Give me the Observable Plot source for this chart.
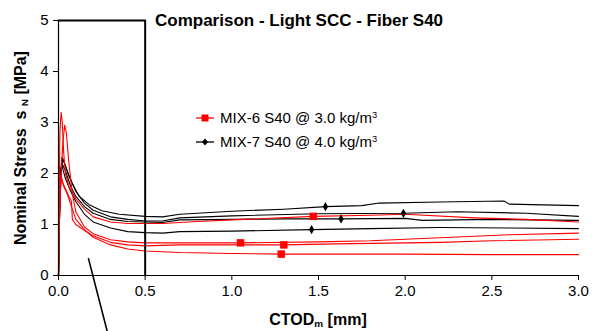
<!DOCTYPE html>
<html><head><meta charset="utf-8">
<script src="https://cdn.jsdelivr.net/npm/d3@7"></script>
<script src="https://cdn.jsdelivr.net/npm/@observablehq/plot@0.6"></script>
<style>
body{margin:0;background:#fff;font-family:"Liberation Sans",Arial,sans-serif}
#wrap{position:relative;width:592px;height:331px;overflow:hidden;background:#fff}
.t{position:absolute;white-space:nowrap;color:#000;line-height:1}
sub.s{font-size:0.62em;vertical-align:-0.2em;line-height:0}
sup.s{font-size:0.62em;vertical-align:0.55em;line-height:0}
</style></head><body><div id="wrap"></div>
<script>
// ---- data (CTOD_m [mm], nominal stress [MPa]) ----
const titleText = "Comparison - Light SCC - Fiber S40";
const seriesNames = ["MIX-6 S40 @ 3.0 kg/m", "MIX-7 S40 @ 4.0 kg/m"];
const xTicks = [0, 0.5, 1.0, 1.5, 2.0, 2.5, 3.0];
const yTicks = [0, 1, 2, 3, 4, 5];

// MIX-6 (red) specimens
const mix6_1 = [[0,0],[0.004,1.5],[0.008,2.8],[0.015,3.2],[0.022,3.0],[0.03,2.4],[0.04,2.0],[0.06,1.75],[0.1,1.5],[0.15,1.3],[0.2,1.15],[0.3,1.05],[0.4,1.02],[0.5,1.02],[0.6,1.02],[0.8,1.06],[1.0,1.09],[1.47,1.16],[1.8,1.18],[2.0,1.2],[2.4,1.13],[2.7,1.1],[3.0,1.05]];
const mix6_2 = [[0,0],[0.005,1.0],[0.015,2.0],[0.025,2.6],[0.036,2.95],[0.045,2.8],[0.06,2.2],[0.08,1.6],[0.1,1.25],[0.15,0.95],[0.2,0.82],[0.3,0.70],[0.4,0.66],[0.5,0.64],[0.7,0.64],[1.05,0.64],[1.5,0.66],[1.8,0.68],[2.2,0.74],[2.6,0.8],[3.0,0.83]];
const mix6_3 = [[0,0],[0.005,1.0],[0.01,1.6],[0.015,2.0],[0.02,1.85],[0.04,1.7],[0.06,1.55],[0.075,1.45],[0.08,1.1],[0.1,1.0],[0.15,0.88],[0.2,0.78],[0.3,0.65],[0.4,0.6],[0.5,0.58],[0.7,0.6],[1.0,0.6],[1.3,0.6],[1.6,0.62],[1.8,0.63],[2.2,0.65],[2.5,0.68],[3.0,0.71]];
const mix6_4 = [[0,0],[0.005,1.2],[0.01,1.8],[0.015,1.95],[0.03,1.75],[0.05,1.6],[0.07,1.4],[0.1,1.1],[0.15,0.9],[0.2,0.75],[0.3,0.6],[0.4,0.52],[0.5,0.48],[0.7,0.45],[1.0,0.43],[1.285,0.42],[1.6,0.42],[2.0,0.42],[2.5,0.41],[3.0,0.41]];
const mix6Markers = [[1.47,1.16],[1.05,0.64],[1.30,0.60],[1.285,0.42]];

// MIX-7 (black) specimens
const mix7_1 = [[0,0],[0.005,1.0],[0.012,2.0],[0.02,2.32],[0.03,2.25],[0.05,2.05],[0.08,1.8],[0.12,1.55],[0.18,1.38],[0.25,1.27],[0.35,1.2],[0.5,1.16],[0.6,1.15],[0.7,1.2],[1.0,1.26],[1.3,1.3],[1.54,1.35],[1.75,1.37],[1.85,1.42],[2.2,1.44],[2.57,1.46],[2.6,1.40],[3.0,1.37]];
const mix7_2 = [[0,0],[0.006,1.2],[0.015,2.1],[0.025,2.28],[0.04,2.15],[0.06,1.95],[0.1,1.65],[0.15,1.42],[0.2,1.28],[0.3,1.15],[0.4,1.1],[0.5,1.07],[0.6,1.07],[0.7,1.13],[1.0,1.17],[1.5,1.21],[1.99,1.22],[2.3,1.25],[2.7,1.22],[3.0,1.16]];
const mix7_3 = [[0,0],[0.006,1.3],[0.015,2.0],[0.02,2.2],[0.04,2.05],[0.07,1.75],[0.1,1.55],[0.15,1.35],[0.2,1.22],[0.3,1.1],[0.4,1.06],[0.5,1.05],[0.6,1.04],[0.7,1.09],[1.0,1.1],[1.3,1.11],[1.63,1.11],[2.0,1.12],[2.1,1.08],[2.5,1.1],[3.0,1.08]];
const mix7_4 = [[0,0],[0.006,1.5],[0.015,2.1],[0.02,2.15],[0.04,1.9],[0.07,1.65],[0.1,1.45],[0.15,1.2],[0.2,1.05],[0.3,0.93],[0.4,0.86],[0.5,0.84],[0.6,0.83],[0.7,0.86],[1.0,0.87],[1.46,0.90],[1.8,0.92],[2.2,0.94],[2.6,0.93],[3.0,0.92]];
const mix7Markers = [[1.54,1.35],[1.99,1.22],[1.63,1.11],[1.46,0.90]];

// annotation: box around 0–0.5 mm region and pointer line
const boxOutline = [[0,5],[0.5,5],[0.5,0]];
const pointerLine = [[0.173,0.33],[0.283,-1.12]];

// ---- build tidy tables ----
const toRows = (arr, curve) => arr.map(([x,y]) => ({x, y, curve}));
const mix6Rows = [mix6_1, mix6_2, mix6_3, mix6_4].flatMap((c,i) => toRows(c, "m6_" + i));
const mix7Rows = [mix7_1, mix7_2, mix7_3, mix7_4].flatMap((c,i) => toRows(c, "m7_" + i));

const RED = "#ff0000";
const chart = Plot.plot({
  width: 592, height: 331,
  marginTop: 20, marginRight: 14, marginBottom: 56, marginLeft: 58,
  style: {fontFamily: '"Liberation Sans", Arial, sans-serif', fontSize: "15px", color: "#000", background: "#fff"},
  x: {domain: [0, 3]},
  y: {domain: [0, 5]},
  marks: [
    Plot.axisX({ticks: xTicks, tickFormat: d => d.toFixed(1), tickSize: 5, tickPadding: 5, label: null, fontSize: 15, stroke: "#000"}),
    Plot.axisY({ticks: yTicks, tickFormat: d => String(d), tickSize: 5, tickPadding: 5, label: null, fontSize: 15, stroke: "#000"}),
    Plot.line(mix7Rows, {x: "x", y: "y", z: "curve", stroke: "#000", strokeWidth: 1.1}),
    Plot.line(mix6Rows, {x: "x", y: "y", z: "curve", stroke: RED, strokeWidth: 1.1}),
    Plot.dot(mix7Markers, {x: d => d[0], y: d => d[1], symbol: "diamond", r: 2.8, fill: "#000", stroke: null}),
    Plot.dot(mix6Markers, {x: d => d[0], y: d => d[1], symbol: "square", r: 4.2, fill: RED, stroke: null}),
    Plot.line(boxOutline, {x: d => d[0], y: d => d[1], stroke: "#000", strokeWidth: 2}),
    Plot.line(pointerLine, {x: d => d[0], y: d => d[1], stroke: "#000", strokeWidth: 1.6}),
    Plot.ruleX([0], {stroke: "#000", strokeWidth: 1.2}),
    Plot.ruleY([0], {stroke: "#000", strokeWidth: 1.2})
  ]
});
const wrap = document.getElementById("wrap");
wrap.appendChild(chart);

function addText(html, css) {
  const d = document.createElement("div");
  d.className = "t";
  d.innerHTML = html;
  Object.assign(d.style, css);
  wrap.appendChild(d);
  return d;
}
// title
addText(titleText, {left: "155px", top: "12px", fontWeight: "bold", fontSize: "17px"});
// axis labels
addText('CTOD<sub class="s">m</sub> [mm]', {left: "318px", top: "320px", transform: "translate(-50%,-50%)", fontWeight: "bold", fontSize: "16px"});
addText('Nominal Stress&nbsp; s <sub class="s">N</sub> [MPa]', {left: "20.5px", top: "147.5px", transform: "translate(-50%,-50%) rotate(-90deg)", fontWeight: "bold", fontSize: "16px"});

// legend
const legendSym = [
  `<svg width="18" height="10" style="position:absolute;left:-24px;top:3px"><line x1="0" y1="5" x2="18" y2="5" stroke="${RED}" stroke-width="1.3"/><rect x="5.5" y="1.5" width="7" height="7" fill="${RED}"/></svg>`,
  `<svg width="18" height="10" style="position:absolute;left:-24px;top:3px"><line x1="0" y1="5" x2="18" y2="5" stroke="#000" stroke-width="1.3"/><path d="M9 1.5 L12 5 L9 8.5 L6 5Z" fill="#000"/></svg>`
];
seriesNames.forEach((name, i) => {
  addText(legendSym[i] + name + '<sup class="s">3</sup>', {left: "220px", top: (110 + i * 24) + "px", fontSize: "15px"});
});
</script></body></html>
